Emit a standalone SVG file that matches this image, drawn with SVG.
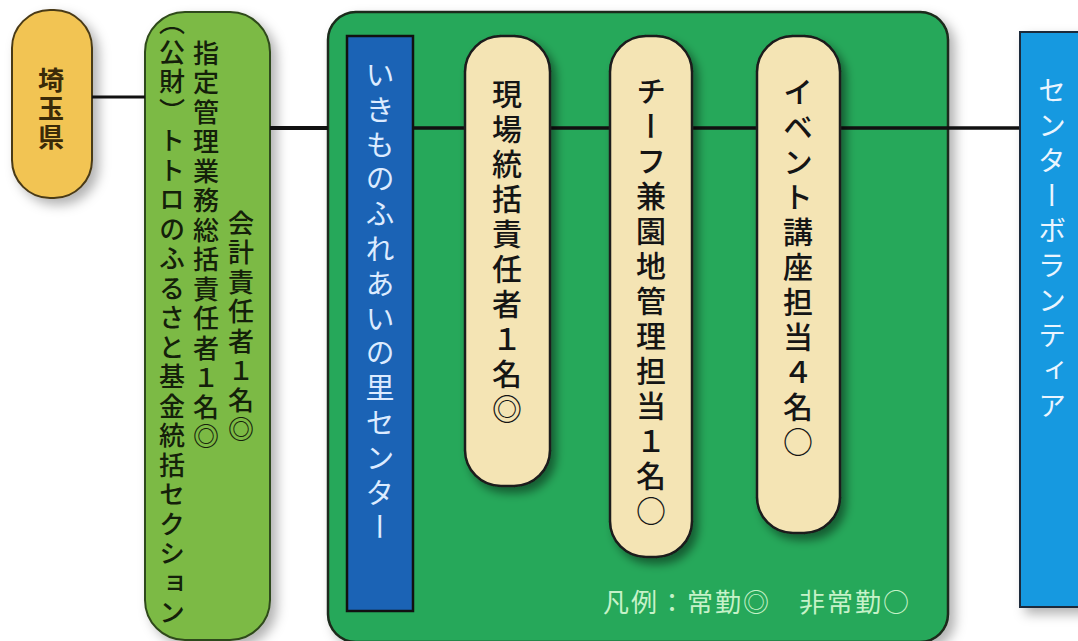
<svg xmlns="http://www.w3.org/2000/svg" width="1078" height="641" viewBox="0 0 1078 641">
<defs>
<filter id="sh" x="-20%" y="-20%" width="150%" height="150%">
<feDropShadow dx="6" dy="6" stdDeviation="6" flood-color="#000" flood-opacity="0.3"/>
</filter>
<filter id="sh2" x="-30%" y="-20%" width="160%" height="150%">
<feDropShadow dx="5" dy="6" stdDeviation="5" flood-color="#000" flood-opacity="0.45"/>
</filter>
</defs>
<style>
.v{writing-mode:vertical-rl;font-family:"Noto Sans CJK JP","Noto Sans CJK SC",sans-serif;}
.pill{fill:#F4E4B4;stroke:#1a1a1a;stroke-width:2.5;}
.ptxt{font-size:30px;letter-spacing:5px;fill:#151515;font-weight:500;}
.gtxt{font-size:26px;letter-spacing:3.5px;fill:#14200a;font-weight:500;}
.ln{stroke:#111;fill:none;}
</style>
<rect width="1078" height="641" fill="#fff"/>

<g id="saitama">
<rect x="12" y="10" width="80" height="188" rx="38" fill="#F2C452" stroke="#4a3a18" stroke-width="2" filter="url(#sh)"/>
<text class="v" x="51" y="67" font-size="26" letter-spacing="2.5" font-weight="bold" fill="#3a2a08">埼玉県</text>
</g>

<g id="shiteikanri">
<rect x="145" y="12" width="125" height="628" rx="40" fill="#7CBA45" stroke="#2f4a1a" stroke-width="2" filter="url(#sh)"/>
<text class="v gtxt" x="241" y="210">会計責任者１名◎</text>
<text class="v gtxt" x="206" y="40">指定管理業務総括責任者１名◎</text>
<text class="v gtxt" x="172" y="9.5">（公財）トトロのふるさと基金統括セクション</text>
</g>

<g id="center-frame">
<rect x="328" y="12" width="620" height="630" rx="28" fill="#28A85A" stroke="#1a2a1a" stroke-width="2.5" filter="url(#sh)"/>
</g>

<g id="ikimono">
<rect x="347" y="36" width="66" height="575" fill="#1B63B5" stroke="#111" stroke-width="2.5"/>
<text class="v" x="380" y="60.5" font-size="29" letter-spacing="5.8" fill="#DCEBFF">いきものふれあいの里センター</text>
</g>

<g id="connectors">
<line class="ln" x1="92" y1="97" x2="145" y2="97" stroke-width="3"/>
<line class="ln" x1="270" y1="128" x2="328" y2="128" stroke-width="4"/>
<line class="ln" x1="413" y1="128" x2="1020" y2="128" stroke-width="3.5"/>
</g>

<g id="genba">
<rect class="pill" x="465" y="36" width="85" height="450" rx="36" filter="url(#sh2)"/>
<text class="v ptxt" x="507" y="79">現場統括責任者１名◎</text>
</g>

<g id="chief">
<rect class="pill" x="610" y="36" width="82" height="521" rx="36" filter="url(#sh2)"/>
<text class="v ptxt" x="651" y="76">チーフ兼園地管理担当１名○</text>
</g>

<g id="event">
<rect class="pill" x="757" y="36" width="83" height="497" rx="36" filter="url(#sh2)"/>
<text class="v ptxt" x="798" y="77">イベント講座担当４名○</text>
</g>

<g id="legend">
<text x="603" y="612" font-family="Noto Sans CJK JP, sans-serif" font-size="26" letter-spacing="2" fill="#C6F2C8">凡例：常勤◎　非常勤○</text>
</g>

<g id="volunteer">
<rect x="1020" y="32" width="70" height="575" fill="#1399E0" stroke="#1a2a3a" stroke-width="2" filter="url(#sh)"/>
<text class="v" x="1052" y="76" font-size="28" letter-spacing="7" fill="#EAF5FF">センターボランティア</text>
</g>
</svg>
